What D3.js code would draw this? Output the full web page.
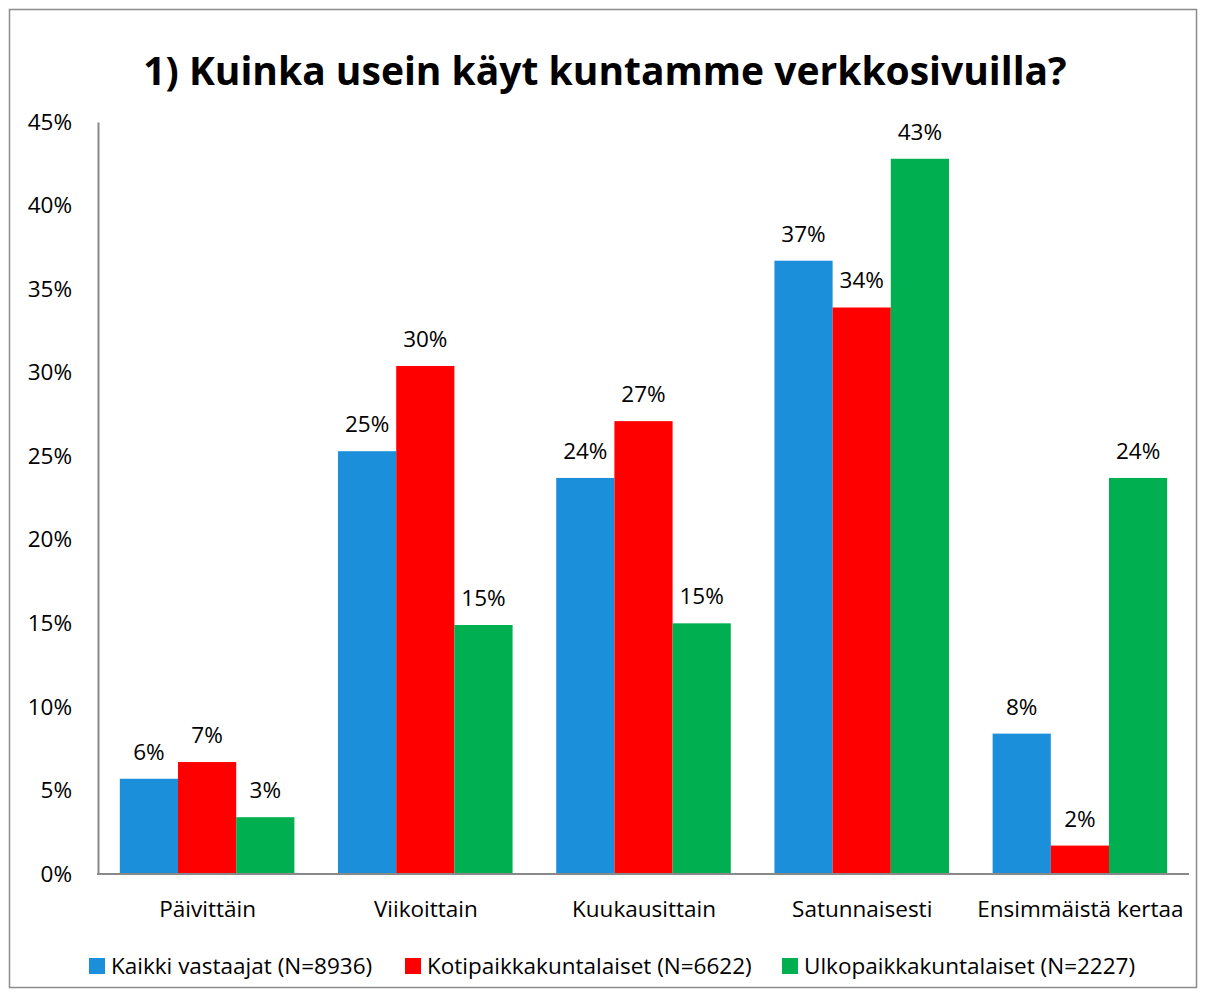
<!DOCTYPE html>
<html>
<head>
<meta charset="utf-8">
<script src="https://cdn.jsdelivr.net/npm/d3@7"></script>
<style>
  body { margin: 0; background: #fff; }
  svg text { font-family: "Open Sans", "Noto Sans", sans-serif; fill: #000; }
</style>
</head>
<body>
<div id="wrapper"></div>
<script>
const categories = ["Päivittäin", "Viikoittain", "Kuukausittain", "Satunnaisesti", "Ensimmäistä kertaa"]
const seriesNames = ["Kaikki vastaajat (N=8936)", "Kotipaikkakuntalaiset (N=6622)", "Ulkopaikkakuntalaiset (N=2227)"]
const kaikki = [5.7, 25.3, 23.7, 36.7, 8.4]
const koti = [6.7, 30.4, 27.1, 33.9, 1.7]
const ulko = [3.4, 14.9, 15.0, 42.8, 23.7]
const seriesValues = [kaikki, koti, ulko]
const colors = ["#1c8fda", "#ff0000", "#00b050"]
const yTicks = [0, 5, 10, 15, 20, 25, 30, 35, 40, 45]

const width = 1206
const height = 997
const margin = { top: 122, right: 17, bottom: 123, left: 98 }
const fontSize = "22.5px"

const svg = d3.select("#wrapper").append("svg")
  .attr("width", width)
  .attr("height", height)

// chart border
svg.append("rect")
  .attr("x", 9.5).attr("y", 9.5)
  .attr("width", width - 19).attr("height", height - 19)
  .attr("fill", "none")
  .attr("stroke", "#8c8c8c")
  .attr("stroke-width", 1.5)

svg.append("text")
  .attr("x", width / 2 + 2)
  .attr("y", 85)
  .attr("text-anchor", "middle")
  .style("font-size", "39px")
  .style("font-weight", "bold")
  .text("1) Kuinka usein käyt kuntamme verkkosivuilla?")

// gap width 75% of bar width
const band = (width - margin.right - margin.left) / categories.length
const barW = band / 3.75
const x1 = d3.scaleBand()
  .domain(d3.range(seriesNames.length))
  .range([0, barW * 3])

const y = d3.scaleLinear()
  .domain([0, 45])
  .range([height - margin.bottom, margin.top])

const catX = (i) => margin.left + band * i + (band - barW * 3) / 2

const yAxis = svg.append("g")
  .attr("transform", `translate(${margin.left},0)`)
  .call(d3.axisLeft(y).tickValues(yTicks).tickFormat((d) => d + "%").tickSize(0).tickPadding(26))
yAxis.select(".domain").attr("stroke", "#898989").attr("stroke-width", 2)
yAxis.selectAll("text").style("font-size", fontSize).style("font-family", "Open Sans")

// bars
seriesValues.forEach((vals, s) => {
  const g = svg.append("g")
  g.selectAll("rect")
    .data(vals)
    .join("rect")
    .attr("x", (d, i) => catX(i) + x1(s))
    .attr("y", (d) => y(d))
    .attr("width", x1.bandwidth())
    .attr("height", (d) => y(0) - y(d))
    .attr("fill", colors[s])
  g.selectAll("text")
    .data(vals)
    .join("text")
    .attr("x", (d, i) => catX(i) + x1(s) + x1.bandwidth() / 2)
    .attr("y", (d) => y(d) - 19)
    .attr("text-anchor", "middle")
    .style("font-size", fontSize)
    .text((d) => Math.round(d) + "%")
})

const xAxis = svg.append("g")
  .attr("transform", `translate(0,${y(0)})`)
  .call(d3.axisBottom(d3.scalePoint().domain(categories)
    .range([margin.left + band / 2, width - margin.right - band / 2])).tickSize(0).tickPadding(27))
xAxis.select(".domain").remove()
xAxis.selectAll("text").style("font-size", fontSize).style("font-family", "Open Sans")
svg.append("line")
  .attr("x1", margin.left - 1).attr("x2", width - margin.right)
  .attr("y1", y(0)).attr("y2", y(0))
  .attr("stroke", "#898989").attr("stroke-width", 2)

// legend
const legendX = [89, 405, 782]
const legend = svg.append("g")
seriesNames.forEach((name, s) => {
  legend.append("rect")
    .attr("x", legendX[s]).attr("y", 958)
    .attr("width", 16).attr("height", 16)
    .attr("fill", colors[s])
  legend.append("text")
    .attr("x", legendX[s] + 22).attr("y", 974)
    .style("font-size", fontSize)
    .text(name)
})
</script>
</body>
</html>
